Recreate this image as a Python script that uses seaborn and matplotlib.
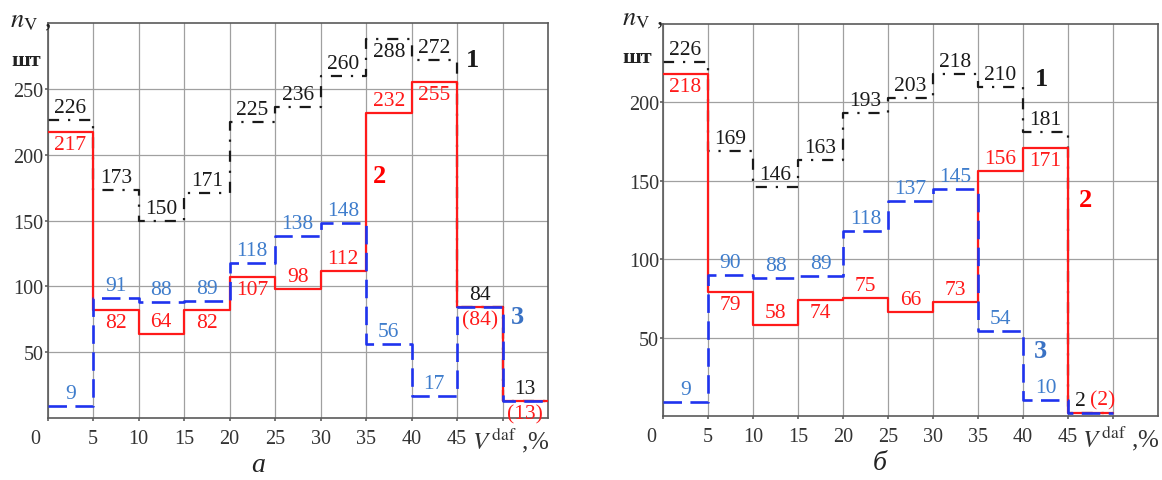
import matplotlib
matplotlib.use("Agg")
import matplotlib.pyplot as plt
from matplotlib.transforms import ScaledTranslation, blended_transform_factory
import pandas as pd
import seaborn as sns

sns.set_theme(style="white")
plt.rcParams["font.family"] = ["Liberation Serif", "DejaVu Serif"]
plt.rcParams["mathtext.fontset"] = "stix"

# Volatile-matter intervals V^daf, %
edges_a = [0, 5, 10, 15, 20, 25, 30, 35, 40, 45, 50, 55]
edges_b = [0, 5, 10, 15, 20, 25, 30, 35, 40, 45, 50]

# Panel а: number of samples per interval
n1_a = [226, 173, 150, 171, 225, 236, 260, 288, 272, 84, 13]
n2_a = [217, 82, 64, 82, 107, 98, 112, 232, 255, 84, 13]
n3_a = [9, 91, 88, 89, 118, 138, 148, 56, 17, 84, 13]

# Panel б
n1_b = [226, 169, 146, 163, 193, 203, 218, 210, 181, 2]
n2_b = [218, 79, 58, 74, 75, 66, 73, 156, 171, 2]
n3_b = [9, 90, 88, 89, 118, 137, 145, 54, 10, 2]

# label side relative to the step: +1 above, -1 below
side1_a = [1, 1, 1, 1, 1, 1, 1, -1, 1, 1, 1]
side2_a = [-1, -1, 1, -1, -1, 1, 1, 1, -1, -1, -1]
side3_a = [1] * 11
side1_b = [1] * 10
side2_b = [-1, -1, 1, -1, 1, 1, 1, 1, -1, 1]
side3_b = [1] * 10

BLACK = "#1a1a1a"
RED = "#ff1a1a"
BLUE = "#1f33ee"
BLUE_TXT = "#3f7dcc"


def steps(edges, values):
    return pd.DataFrame({"V": edges, "n": list(values) + [values[-1]]})


def draw_panel(ax, edges, s1, s2, s3, sd1, sd2, sd3, ymax, yticks,
               num_pos, letter, letter_x):
    specs = [
        (s1, BLACK, 1.6, (0, (5, 4, 1, 4)), 2),
        (s2, RED, 1.6, "solid", 3),
        (s3, BLUE, 1.9, (0, (7, 3.2)), 4),
    ]
    for vals, col, lw, ls, z in specs:
        sns.lineplot(data=steps(edges, vals), x="V", y="n", ax=ax,
                     drawstyle="steps-post", color=col, lw=lw,
                     estimator=None, sort=False, zorder=z)
        ax.lines[-1].set_linestyle(ls)

    mids = [(edges[i] + edges[i + 1]) / 2 for i in range(len(s1))]
    off = 9
    fs = 15.5
    for i, x in enumerate(mids):
        shared = s1[i] == s2[i] == s3[i]
        both_above = shared and sd1[i] > 0 and sd2[i] > 0
        dx1 = -1.1 if both_above else 0
        dx2 = 1.3 if both_above else 0
        ax.annotate(str(s1[i]), (x + dx1, s1[i]), xytext=(0, off * sd1[i]),
                    textcoords="offset points", ha="center", va="center",
                    fontsize=fs, color=BLACK, zorder=6)
        txt2 = f"({s2[i]})" if shared else str(s2[i])
        ax.annotate(txt2, (x + dx2, s2[i]), xytext=(0, off * sd2[i]),
                    textcoords="offset points", ha="center", va="center",
                    fontsize=fs, color=RED, zorder=6)
        if not shared:
            ax.annotate(str(s3[i]), (x, s3[i]), xytext=(0, off * sd3[i]),
                        textcoords="offset points", ha="center", va="center",
                        fontsize=fs, color=BLUE_TXT, zorder=6)

    for txt, col, (px, py) in zip(["1", "2", "3"], [BLACK, "#ff0000", "#3a72c4"], num_pos):
        ax.text(px, py, txt, fontsize=19, fontweight="bold", color=col,
                ha="center", va="center", zorder=6)

    ax.set_xlim(0, 55)
    ax.set_ylim(0, ymax)
    ax.set_xticks(list(range(0, 55, 5)))
    ax.set_xticklabels([str(v) for v in range(0, 50, 5)] + [""])
    ax.set_yticks(yticks)
    ax.set_yticklabels([str(v) for v in yticks])
    ax.grid(True, color="#a0a0a0", lw=0.9)
    ax.set_axisbelow(True)
    for sp in ax.spines.values():
        sp.set_color("#5a5a5a")
        sp.set_linewidth(1.2)
    ax.tick_params(axis="both", bottom=True, left=True, length=2,
                   color="#666666", labelsize=14.5, labelcolor="#333333")
    ax.tick_params(axis="x", pad=6)
    ax.tick_params(axis="y", pad=1)
    ax.set_xlabel("")
    ax.set_ylabel("")
    # corner zero sits left of the origin
    lab0 = ax.get_xticklabels()[0]
    lab0.set_transform(lab0.get_transform() +
                       ScaledTranslation(-0.12, 0, ax.figure.dpi_scale_trans))

    tr = blended_transform_factory(ax.transData, ax.transAxes)
    ax.text(46.6, -0.055, r"$V^{\,\mathrm{daf}}$ ,%", transform=tr,
            fontsize=18, color="#333333", ha="left", va="center")
    ax.text(letter_x, -0.118, letter, transform=ax.transAxes, fontsize=20,
            style="italic", color="#222222", ha="center", va="center")


fig = plt.figure(figsize=(11.62, 4.81), dpi=100)
ax_a = fig.add_axes([0.0409, 0.1289, 0.4307, 0.8212])
ax_b = fig.add_axes([0.5706, 0.1331, 0.4260, 0.8150])

draw_panel(ax_a, edges_a, n1_a, n2_a, n3_a, side1_a, side2_a, side3_a,
           300, [50, 100, 150, 200, 250],
           [(46.7, 272), (36.5, 184), (51.6, 77)], "а", 0.42)
draw_panel(ax_b, edges_b, n1_b, n2_b, n3_b, side1_b, side2_b, side3_b,
           250, [50, 100, 150, 200],
           [(42.1, 215), (46.9, 138), (41.9, 41.5)], "б", 0.438)

# axis captions above the y tick labels
for x0, yn, ysh in [(0.009, 0.955, 0.873), (0.535, 0.958, 0.879)]:
    fig.text(x0, yn, r"$n_{\mathrm{V}}$ ,", fontsize=19, color="#222222",
             ha="left", va="center")
    fig.text(x0 + 0.001, ysh, "шт", fontsize=16, fontweight="bold",
             color="#222222", ha="left", va="center")

fig.savefig("out.png", dpi=100)
